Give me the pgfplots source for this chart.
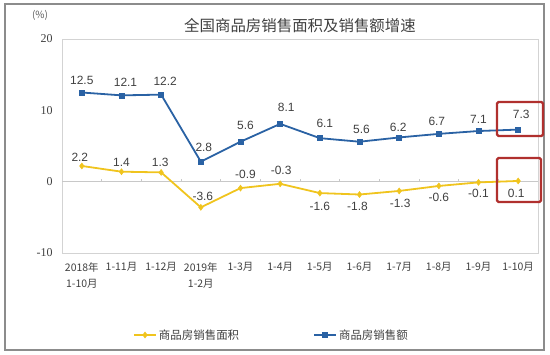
\documentclass[border=0pt]{standalone}
\usepackage{fontspec}
\usepackage{pgfplots}
\usepackage{pgfplotstable}
\pgfplotsset{compat=1.18}
\setmainfont{Noto Sans CJK SC}
\newfontfamily\labfont{Liberation Sans}
\newfontfamily\numfont{Liberation Serif}
\definecolor{cblue}{HTML}{2A62A4}
\definecolor{cyellow}{HTML}{F0C41E}
\definecolor{ctext}{HTML}{404040}
\definecolor{cgrid}{HTML}{C8C8C8}
\definecolor{cframe}{HTML}{8C8C8C}
\definecolor{cred}{HTML}{B0302E}

\pgfplotstableread{
x y lab dx dy
0 12.5 12.5 0 12
1 12.1 12.1 4 13
2 12.2 12.2 4 13
3 2.8 2.8 3 14
4 5.6 5.6 5 16
5 8.1 8.1 6 17
6 6.1 6.1 5 15
7 5.6 5.6 2 12
8 6.2 6.2 -1 10
9 6.7 6.7 -2 12
10 7.1 7.1 0 12
11 7.3 7.3 3 15
}\amount

\pgfplotstableread{
x y lab dx dy
0 2.2 2.2 -2 9
1 1.4 1.4 0 9
2 1.3 1.3 -1 10
3 -3.6 -3.6 2 11
4 -0.9 -0.9 5 14
5 -0.3 -0.3 1 13
6 -1.6 -1.6 0 -13
7 -1.8 -1.8 -2 -12
8 -1.3 -1.3 1 -12
9 -0.6 -0.6 0 -11
10 -0.1 -0.1 0 -11
11 0.1 0.1 -2 -12
}\area

\begin{document}
\begin{tikzpicture}
\path[use as bounding box] (0,0) rectangle (550bp,-355bp);
\draw[cframe, line width=1.2bp] (5bp,-4bp) rectangle (544bp,-350bp);
\node[text=ctext, font=\fontsize{15.5}{15.5}\selectfont] at (300bp,-26bp) {全国商品房销售面积及销售额增速};
\node[text=ctext!85, font=\fontsize{10}{10}\selectfont] at (40bp,-15bp) {(\%)};
\begin{axis}[
  at={(62bp,-253bp)}, anchor=south west,
  scale only axis, width=476bp, height=214bp,
  xmin=-0.5, xmax=11.5, ymin=-10, ymax=20,
  clip=false,
  axis line style={draw=cgrid!80},
  xtick={0,...,11},
  xticklabels={{2018年\\1-10月},1-11月,1-12月,{2019年\\1-2月},1-3月,1-4月,1-5月,1-6月,1-7月,1-8月,1-9月,1-10月},
  xticklabel style={align=center, text=ctext, font=\fontsize{10.5}{16}\selectfont, yshift=-6bp},
  xtick style={draw=none},
  ytick={-10,0,10,20},
  yticklabels={-10,0,10,20},
  yticklabel style={text=ctext, font=\numfont\fontsize{12}{12}\selectfont, xshift=-6bp},
  ytick style={draw=none},
  legend style={at={(0.44,-0.383)}, anchor=center, draw=none, fill=none,
    legend columns=2, font=\fontsize{11.5}{12}\selectfont, text=ctext,
    /tikz/every even column/.append style={column sep=72bp}},
  legend cell align=left,
  legend image code/.code={\draw[mark repeat=2,mark phase=2] plot coordinates {(0cm,0cm) (0.39cm,0cm) (0.78cm,0cm)};},
  nodes near coords,
  point meta=explicit symbolic,
  visualization depends on={\thisrow{dx}\as\mydx},
  visualization depends on={\thisrow{dy}\as\mydy},
  every node near coord/.append style={anchor=center, xshift=\mydx bp, yshift=\mydy bp, font=\labfont\fontsize{12}{12}\selectfont, text=ctext},
]
\draw[cgrid, line width=0.8bp] (axis cs:-0.5,0) -- (axis cs:11.5,0);
\pgfplotsinvokeforeach{0.5,1.5,2.5,3.5,4.5,5.5,6.5,7.5,8.5,9.5,10.5}{
  \draw[cgrid, line width=0.8bp] (axis cs:#1,0) -- ([yshift=3bp]axis cs:#1,0);
}
\addplot[cyellow, line width=1.8bp, mark=diamond*, mark size=3bp, mark options={fill=cyellow, draw=cyellow, line width=0.5bp}]
  table[x=x, y=y, meta=lab] {\area};
\addlegendentry{商品房销售面积}
\addplot[cblue, line width=1.8bp, mark=square*, mark size=2.5bp, mark options={fill=cblue, draw=cblue, line width=0.5bp}]
  table[x=x, y=y, meta=lab] {\amount};
\addlegendentry{商品房销售额}
\end{axis}
\draw[cred, line width=2.4bp, rounded corners=1.5bp] (497bp,-102bp) rectangle (543bp,-136bp);
\draw[cred, line width=2.4bp, rounded corners=1.5bp] (497bp,-158bp) rectangle (541bp,-202bp);
\end{tikzpicture}
\end{document}
